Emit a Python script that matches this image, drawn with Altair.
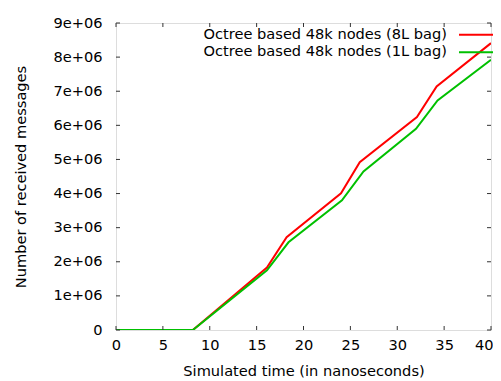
import altair as alt
import pandas as pd

series = ["Octree based 48k nodes (8L bag)", "Octree based 48k nodes (1L bag)"]
colors = ["#ff0000", "#00c000"]

time_8L = [0, 8.2, 16.1, 18.2, 24.0, 26.0, 32.1, 34.2, 40]
msgs_8L = [0, 0, 1.83e6, 2.72e6, 4.01e6, 4.92e6, 6.24e6, 7.14e6, 8.41e6]

time_1L = [0, 8.2, 16.1, 18.4, 24.1, 26.4, 32.0, 34.3, 40]
msgs_1L = [0, 0, 1.75e6, 2.57e6, 3.80e6, 4.65e6, 5.90e6, 6.73e6, 7.92e6]

x_ticks = [0, 5, 10, 15, 20, 25, 30, 35, 40]
y_ticks = [0, 1e6, 2e6, 3e6, 4e6, 5e6, 6e6, 7e6, 8e6, 9e6]

W, H = 375, 307
FONT = "DejaVu Sans"
FS = 14.6
TICK = 4

df8 = pd.DataFrame({"t": time_8L, "m": msgs_8L, "s": series[0]})
df1 = pd.DataFrame({"t": time_1L, "m": msgs_1L, "s": series[1]})
xt = pd.DataFrame({"t": x_ticks})
yt = pd.DataFrame({"m": y_ticks})

xscale = alt.Scale(domain=[0, 40], nice=False, zero=False)
yscale = alt.Scale(domain=[0, 9e6], nice=False)

xaxis = alt.Axis(values=x_ticks, ticks=False, tickSize=0, domain=False, grid=False,
                 labelFont=FONT, labelFontSize=FS, labelColor="black", labelPadding=7,
                 labelFlush=False,
                 labelAlign={"condition": {"test": "datum.value == 40", "value": "right"},
                             "value": "center"},
                 labelOffset={"condition": {"test": "datum.value == 40", "value": 2},
                              "value": 0},
                 title="Simulated time (in nanoseconds)", titleFont=FONT, titleFontSize=FS,
                 titleFontWeight="normal", titleColor="black", titlePadding=12)
yaxis = alt.Axis(values=y_ticks, ticks=False, tickSize=0, domain=False, grid=False,
                 labelFont=FONT, labelFontSize=FS, labelColor="black", labelPadding=14,
                 labelFlush=False,
                 labelExpr="datum.value == 0 ? '0' : format(datum.value / 1e6, 'd') + 'e+06'",
                 title="Number of received messages", titleFont=FONT, titleFontSize=FS,
                 titleFontWeight="normal", titleColor="black", titlePadding=24)

X = alt.X("t:Q", scale=xscale, axis=xaxis)
Y = alt.Y("m:Q", scale=yscale, axis=yaxis)

color = alt.Color("s:N", scale=alt.Scale(domain=series, range=colors), legend=None)

red = alt.Chart(df8).mark_line(strokeWidth=2, clip=True).encode(x=X, y=Y, color=color)
green = alt.Chart(df1).mark_line(strokeWidth=2, clip=True).encode(x=X, y=Y, color=color)

tick_color = "#333333"
xb = alt.Chart(xt).mark_rule(color=tick_color, strokeWidth=1).encode(
    x=X, y=alt.value(H), y2=alt.value(H - TICK))
xtop = alt.Chart(xt).mark_rule(color=tick_color, strokeWidth=1).encode(
    x=X, y=alt.value(0), y2=alt.value(TICK))
yl = alt.Chart(yt).mark_rule(color=tick_color, strokeWidth=1).encode(
    y=Y, x=alt.value(0), x2=alt.value(TICK))
yr = alt.Chart(yt).mark_rule(color=tick_color, strokeWidth=1).encode(
    y=Y, x=alt.value(W), x2=alt.value(W - TICK))

# key (gnuplot style: label on the left, line sample on the right)
legend_layers = []
for i, (name, col) in enumerate(zip(series, colors)):
    ypix = 11.8 + i * 17.5
    ldf = pd.DataFrame({"s": [name]})
    legend_layers.append(
        alt.Chart(ldf).mark_text(align="right", baseline="middle", font=FONT,
                                 fontSize=FS, color="black").encode(
            text="s:N", x=alt.value(331), y=alt.value(ypix)))
    legend_layers.append(
        alt.Chart(ldf).mark_rule(color=col, strokeWidth=2).encode(
            x=alt.value(343), x2=alt.value(378), y=alt.value(ypix)))

chart = alt.layer(red, green, xb, xtop, yl, yr, *legend_layers).properties(
    width=W, height=H,
    autosize=alt.AutoSizeParams(type="none"),
    padding={"left": 108, "top": 15, "right": 2, "bottom": 50},
).configure_view(stroke=tick_color, strokeWidth=1).configure(background="white")

chart.save("out.html", embed_options={"renderer": "svg", "actions": False})
